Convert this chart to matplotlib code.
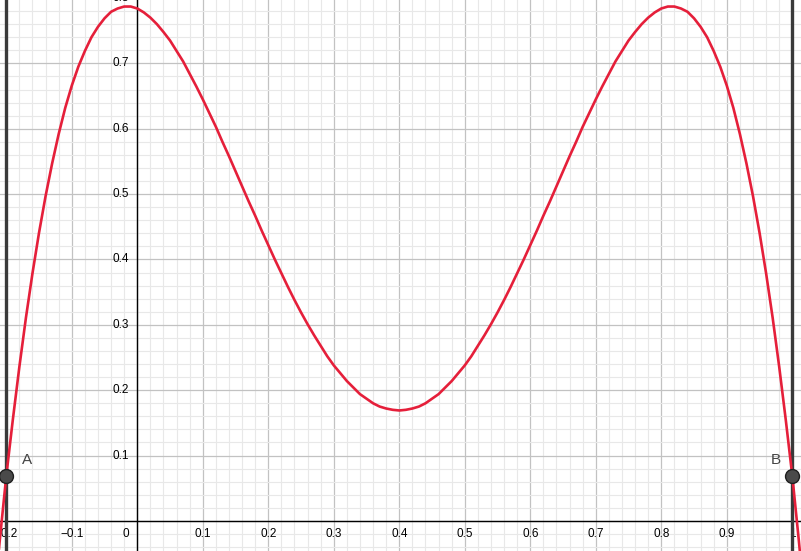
import matplotlib
matplotlib.use('Agg')
import matplotlib.pyplot as plt
import matplotlib.transforms as mtransforms
from matplotlib.ticker import MultipleLocator

plt.rcParams['font.family'] = ['Liberation Sans', 'DejaVu Sans']

# curve values (step 0.01)
xs = [-0.22, -0.21, -0.20, -0.19, -0.18, -0.17, -0.16, -0.15, -0.14, -0.13,
      -0.12, -0.11, -0.10, -0.09, -0.08, -0.07, -0.06, -0.05, -0.04, -0.03,
      -0.02, -0.01, 0.00, 0.01, 0.02, 0.03, 0.04, 0.05, 0.06, 0.07,
      0.08, 0.09, 0.10, 0.11, 0.12, 0.13, 0.14, 0.15, 0.16, 0.17,
      0.18, 0.19, 0.20, 0.21, 0.22, 0.23, 0.24, 0.25, 0.26, 0.27,
      0.28, 0.29, 0.30, 0.31, 0.32, 0.33, 0.34, 0.35, 0.36, 0.37,
      0.38, 0.39, 0.40, 0.41, 0.42, 0.43, 0.44, 0.45, 0.46, 0.47,
      0.48, 0.49, 0.50, 0.51, 0.52, 0.53, 0.54, 0.55, 0.56, 0.57,
      0.58, 0.59, 0.60, 0.61, 0.62, 0.63, 0.64, 0.65, 0.66, 0.67,
      0.68, 0.69, 0.70, 0.71, 0.72, 0.73, 0.74, 0.75, 0.76, 0.77,
      0.78, 0.79, 0.80, 0.81, 0.82, 0.83, 0.84, 0.85, 0.86, 0.87,
      0.88, 0.89, 0.90, 0.91, 0.92, 0.93, 0.94, 0.95, 0.96, 0.97,
      0.98, 0.99, 1.00, 1.01, 1.02]
ys = [-0.137, -0.030, 0.069, 0.155, 0.236, 0.311, 0.379, 0.441, 0.497, 0.547,
      0.592, 0.632, 0.666, 0.695, 0.719, 0.740, 0.756, 0.769, 0.779, 0.784,
      0.787, 0.787, 0.784, 0.778, 0.770, 0.760, 0.748, 0.735, 0.719, 0.703,
      0.684, 0.665, 0.645, 0.624, 0.603, 0.580, 0.558, 0.535, 0.512, 0.489,
      0.467, 0.444, 0.422, 0.400, 0.379, 0.358, 0.338, 0.319, 0.301, 0.284,
      0.268, 0.252, 0.238, 0.226, 0.214, 0.204, 0.194, 0.187, 0.180, 0.175,
      0.172, 0.170, 0.169, 0.170, 0.172, 0.175, 0.180, 0.187, 0.194, 0.204,
      0.214, 0.226, 0.238, 0.252, 0.268, 0.284, 0.301, 0.319, 0.338, 0.358,
      0.379, 0.400, 0.422, 0.444, 0.467, 0.489, 0.512, 0.535, 0.558, 0.580,
      0.603, 0.624, 0.645, 0.665, 0.684, 0.703, 0.719, 0.735, 0.748, 0.760,
      0.770, 0.778, 0.784, 0.787, 0.787, 0.784, 0.779, 0.769, 0.756, 0.740,
      0.719, 0.695, 0.666, 0.632, 0.592, 0.547, 0.497, 0.441, 0.379, 0.311,
      0.236, 0.155, 0.069, -0.030, -0.137]

point_names = ['A', 'B']
point_x = [-0.2, 1.0]
point_y = [0.069, 0.069]

x_ticks = [-0.2, -0.1, 0.1, 0.2, 0.3, 0.4, 0.5, 0.6, 0.7, 0.8, 0.9, 1.0]
x_labels = ['\u22120.2', '\u22120.1', '0.1', '0.2', '0.3', '0.4', '0.5',
            '0.6', '0.7', '0.8', '0.9', '1']
y_ticks = [0.1, 0.2, 0.3, 0.4, 0.5, 0.6, 0.7, 0.8]
y_labels = ['0.1', '0.2', '0.3', '0.4', '0.5', '0.6', '0.7', '0.8']

fig = plt.figure(figsize=(8.01, 5.51), dpi=100)
ax = fig.add_axes([0, 0, 1, 1])
ax.set_xlim(-0.2096, 1.0133)
ax.set_ylim(-0.046, 0.797)

for s in ax.spines.values():
    s.set_visible(False)
ax.xaxis.set_major_locator(MultipleLocator(0.1))
ax.yaxis.set_major_locator(MultipleLocator(0.1))
ax.xaxis.set_minor_locator(MultipleLocator(0.02))
ax.yaxis.set_minor_locator(MultipleLocator(0.02))
ax.tick_params(which='both', length=0, labelbottom=False, labelleft=False)
ax.set_axisbelow(True)
ax.grid(which='minor', color='#e8e8e8', lw=0.8)
ax.grid(which='major', color='#c2c2c2', lw=0.9)

ax.axhline(0, color='black', lw=1.0, zorder=2)
ax.axvline(0, color='black', lw=1.0, zorder=2)

# tick labels next to the axes, geogebra style
lab_x = mtransforms.offset_copy(ax.transData, fig=fig, x=0, y=-7, units='dots')
for t, l in zip(x_ticks, x_labels):
    ax.text(t, 0, l, transform=lab_x, ha='center', va='top', fontsize=8.5, color='black')
lab_0 = mtransforms.offset_copy(ax.transData, fig=fig, x=-8, y=-7, units='dots')
ax.text(0, 0, '0', transform=lab_0, ha='right', va='top', fontsize=8.5, color='black')
lab_y = mtransforms.offset_copy(ax.transData, fig=fig, x=-8, y=0, units='dots')
for t, l in zip(y_ticks, y_labels):
    ax.text(0, t, l, transform=lab_y, ha='right', va='center', fontsize=8.5, color='black')

# boundary lines
for px in point_x:
    ax.axvline(px, color='#3a3a3a', lw=2.4, zorder=3)

ax.plot(xs, ys, color='#e51f3a', lw=1.9, zorder=4, solid_joinstyle='round')

ax.plot(point_x, point_y, 'o', ms=10, mfc='#4a4a4a', mec='#1f1f1f', mew=1.0, zorder=5)
lab_p = [mtransforms.offset_copy(ax.transData, fig=fig, x=21, y=16, units='dots'),
         mtransforms.offset_copy(ax.transData, fig=fig, x=-16, y=16, units='dots')]
for n, px, py, tr in zip(point_names, point_x, point_y, lab_p):
    ax.text(px, py, n, transform=tr, ha='center', va='center', fontsize=11, color='#444444')

fig.savefig('out.png', dpi=100)
